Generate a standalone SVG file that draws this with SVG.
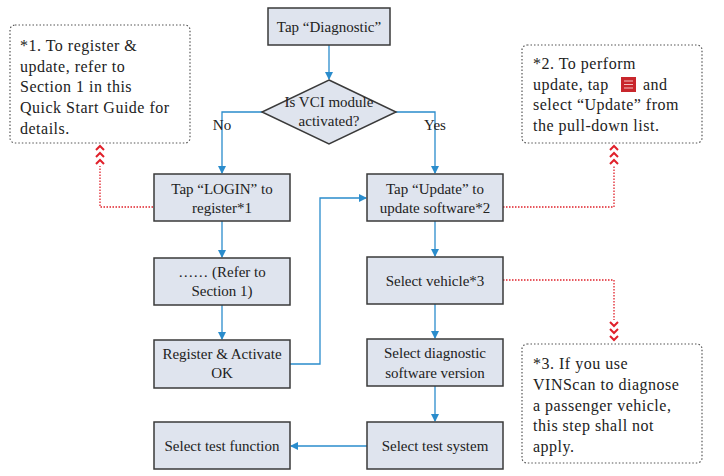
<svg xmlns="http://www.w3.org/2000/svg" width="724" height="476" viewBox="0 0 724 476">
<style>
.b{fill:#dfe4ee;stroke:#3a3a3a;stroke-width:1.5}
.t{font-family:"Liberation Serif",serif;font-size:15px;fill:#222;text-anchor:middle}
.n{font-family:"Liberation Serif",serif;font-size:16px;fill:#222;letter-spacing:0.5px}
.c{fill:none;stroke:#2a8ccc;stroke-width:1.3}
.r{fill:none;stroke:#e0202a;stroke-width:1.3;stroke-dasharray:1.5 1.5}
.note{fill:#fff;stroke:#555;stroke-width:1.2;stroke-dasharray:1.5 2}
.ch{fill:none;stroke:#e0202a;stroke-width:2}
</style>
<defs>
<marker id="a" markerWidth="8" markerHeight="8" refX="7" refY="4" orient="auto" markerUnits="userSpaceOnUse"><path d="M0,0 L8,4 L0,8 Z" fill="#2a8ccc"/></marker>
</defs>
<rect width="724" height="476" fill="#fff"/>
<g id="connectors">
<path class="c" d="M329,45 V79" marker-end="url(#a)"/>
<path class="c" d="M262,112 H222 V173" marker-end="url(#a)"/>
<path class="c" d="M396,112 H435 V173" marker-end="url(#a)"/>
<path class="c" d="M222,221 V257" marker-end="url(#a)"/>
<path class="c" d="M222,305 V339" marker-end="url(#a)"/>
<path class="c" d="M290,364 H320 V198 H366" marker-end="url(#a)"/>
<path class="c" d="M435,221 V256" marker-end="url(#a)"/>
<path class="c" d="M435,304 V338" marker-end="url(#a)"/>
<path class="c" d="M435,386 V421" marker-end="url(#a)"/>
<path class="c" d="M367,446 H291" marker-end="url(#a)"/>
<path class="r" d="M186,207 H100 V166"/>
<path class="ch" d="M96,150 l4,-4 l4,4 M96,157 l4,-4 l4,4 M96,164 l4,-4 l4,4"/>
<path class="r" d="M497,207 H614 V166"/>
<path class="ch" d="M610,150 l4,-4 l4,4 M610,157 l4,-4 l4,4 M610,164 l4,-4 l4,4"/>
<path class="r" d="M497,280 H614 V320"/>
<path class="ch" d="M610,322 l4,4 l4,-4 M610,329 l4,4 l4,-4 M610,336 l4,4 l4,-4"/>
<text class="t" x="222" y="130">No</text>
<text class="t" x="435" y="130">Yes</text>
</g>
<g id="n1"><rect class="b" x="268" y="8" width="122" height="37"/><text class="t" x="329" y="32">Tap “Diagnostic”</text></g>
<g id="n2"><polygon class="b" points="329,80 396,112 329,144 262,112"/><text class="t" x="329" y="107">Is VCI module</text><text class="t" x="329" y="126">activated?</text></g>
<g id="n3"><rect class="b" x="154" y="174" width="136" height="47"/><text class="t" x="222" y="194">Tap “LOGIN” to</text><text class="t" x="222" y="213">register*1</text></g>
<g id="n4"><rect class="b" x="367" y="174" width="136" height="47"/><text class="t" x="435" y="194">Tap “Update” to</text><text class="t" x="435" y="213">update software*2</text></g>
<g id="n5"><rect class="b" x="154" y="258" width="136" height="47"/><text class="t" x="222" y="277">…… (Refer to</text><text class="t" x="222" y="296">Section 1)</text></g>
<g id="n6"><rect class="b" x="154" y="340" width="136" height="48"/><text class="t" x="222" y="359">Register &amp; Activate</text><text class="t" x="222" y="378">OK</text></g>
<g id="n7"><rect class="b" x="367" y="257" width="136" height="47"/><text class="t" x="435" y="286">Select vehicle*3</text></g>
<g id="n8"><rect class="b" x="367" y="339" width="136" height="47"/><text class="t" x="435" y="358">Select diagnostic</text><text class="t" x="435" y="378">software version</text></g>
<g id="n9"><rect class="b" x="367" y="422" width="136" height="47"/><text class="t" x="435" y="451">Select test system</text></g>
<g id="n10"><rect class="b" x="154" y="422" width="136" height="47"/><text class="t" x="222" y="451">Select test function</text></g>
<g id="note1"><rect class="note" x="10" y="25" width="180" height="118" rx="5"/>
<text class="n" x="20" y="51">*1. To register &amp;</text><text class="n" x="20" y="72">update, refer to</text><text class="n" x="20" y="92">Section 1 in this</text><text class="n" x="20" y="113">Quick Start Guide for</text><text class="n" x="20" y="134">details.</text></g>
<g id="note2"><rect class="note" x="522" y="45" width="180" height="98" rx="5"/>
<text class="n" x="533" y="69">*2. To perform</text><text class="n" x="533" y="90">update, tap</text>
<rect x="621" y="77" width="15" height="15" fill="#c8262c"/><path d="M624,81 h9 M624,84.5 h9 M624,88 h9" stroke="#f4c0c0" stroke-width="1.2"/>
<text class="n" x="643" y="90">and</text><text class="n" x="533" y="110">select “Update” from</text><text class="n" x="533" y="131">the pull-down list.</text></g>
<g id="note3"><rect class="note" x="522" y="344" width="180" height="119" rx="5"/>
<text class="n" x="533" y="369">*3. If you use</text><text class="n" x="533" y="390">VINScan to diagnose</text><text class="n" x="533" y="411">a passenger vehicle,</text><text class="n" x="533" y="431">this step shall not</text><text class="n" x="533" y="452">apply.</text></g>
</svg>
